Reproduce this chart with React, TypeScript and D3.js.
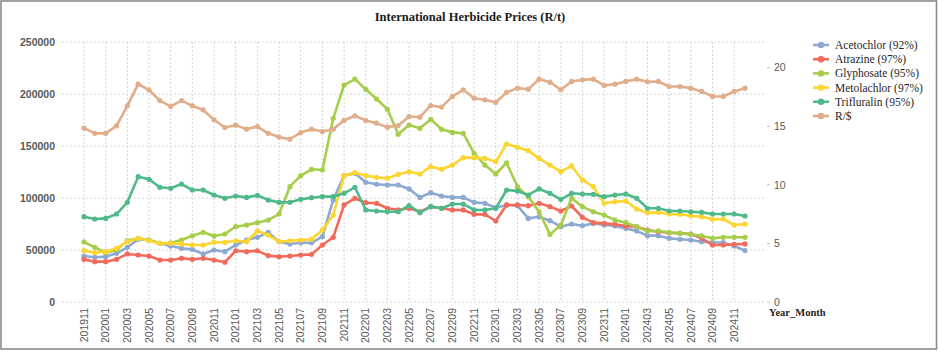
import React from 'react';
import * as d3 from 'd3';

const months = [
  '201911','201912','202001','202002','202003','202004','202005','202006','202007','202008','202009','202010',
  '202011','202012','202101','202102','202103','202104','202105','202106','202107','202108','202109','202110',
  '202111','202112','202201','202202','202203','202204','202205','202206','202207','202208','202209','202210',
  '202211','202212','202301','202302','202303','202304','202305','202306','202307','202308','202309','202310',
  '202311','202312','202401','202402','202403','202404','202405','202406','202407','202408','202409','202410',
  '202411','202412'
];

const acetochlor = [
  44200, 43000, 43600, 46800, 52600, 60300, 59600, 56400, 53800, 51600, 50600, 46200,
  50000, 48400, 54800, 59600, 62200, 67000, 58000, 55800, 56900, 56900, 62800, 98100,
  121500, 123700, 115100, 113200, 112500, 112500, 108700, 100600, 105100, 101900, 100600, 100600,
  95800, 94900, 90700, 93300, 92600, 80400, 82000, 78200, 72400, 75000, 73400, 75600,
  74100, 73100, 70800, 68300, 63800, 63800, 61200, 60300, 59600, 58000, 57400, 57100,
  53800, 49400
];
const atrazine = [
  41000, 38800, 38800, 41000, 46200, 45200, 44200, 40400, 40400, 42000, 41000, 42000,
  40400, 38200, 49300, 48400, 49300, 44600, 43600, 44200, 45200, 45800, 54800, 62200,
  93300, 99700, 95500, 94900, 90100, 88500, 90100, 86800, 91700, 90100, 88500, 88500,
  84300, 84300, 77900, 93300, 93300, 92600, 94900, 91700, 87500, 92300, 81400, 76300,
  75600, 74700, 73100, 72400, 69200, 67600, 66600, 66000, 65400, 61200, 54800, 54800,
  55500, 55800
];
const glyphosate = [
  57700, 52600, 47400, 50000, 59000, 61200, 59600, 56400, 56900, 59600, 63700, 67000,
  63500, 65400, 72400, 74000, 76300, 78800, 84600, 110900, 121500, 127600, 126900, 176600,
  208600, 214400, 204500, 195200, 185300, 161200, 170200, 167000, 175700, 166000, 163100, 162200,
  143000, 131700, 123100, 133900, 110900, 101200, 86800, 65000, 74000, 99700, 91700, 86800,
  83600, 78800, 76300, 72400, 68300, 68300, 67000, 66000, 65100, 63500, 61200, 62200,
  62200, 62200
];
const metolachlor = [
  49400, 47400, 48400, 51600, 58000, 61200, 58900, 56400, 56400, 55800, 54800, 54800,
  57400, 57400, 58900, 58000, 68300, 64400, 58000, 58900, 59600, 60300, 69200, 83600,
  121500, 124400, 121500, 119900, 118900, 122800, 125300, 123100, 130100, 127600, 131700, 138800,
  138800, 138100, 134900, 151900, 148700, 145500, 138100, 131700, 125300, 130800, 117300, 110900,
  94900, 96500, 97100, 89400, 85900, 86200, 84600, 84300, 83000, 82000, 79500, 79800,
  74000, 75000
];
const trifluralin = [
  82000, 79800, 80400, 84600, 95800, 120500, 118000, 110300, 109300, 113400, 107700, 107700,
  102900, 99700, 101900, 100600, 102600, 98000, 95800, 95900, 98700, 100300, 101300, 101300,
  104500, 110300, 88500, 87500, 86800, 86800, 92600, 85900, 91700, 90100, 94200, 94200,
  88500, 88500, 90100, 107700, 106700, 102900, 108700, 104500, 98700, 104500, 103800, 103500,
  101300, 102900, 103800, 99700, 90100, 90100, 87500, 87500, 86800, 86200, 84600, 84600,
  84600, 82700
];
const randDollar = [
  14.85, 14.4, 14.4, 15.04, 16.75, 18.6, 18.1, 17.2, 16.7, 17.2, 16.75, 16.4,
  15.56, 14.9, 15.1, 14.76, 14.98, 14.4, 14.08, 13.9, 14.47, 14.76, 14.56, 14.76,
  15.5, 15.9, 15.5, 15.27, 14.93, 15.07, 15.84, 15.78, 16.78, 16.64, 17.55, 18.12,
  17.4, 17.26, 17.03, 17.9, 18.26, 18.17, 19.03, 18.77, 18.12, 18.83, 18.97, 19.03,
  18.49, 18.6, 18.83, 19.03, 18.8, 18.83, 18.4, 18.4, 18.26, 17.98, 17.55, 17.55,
  17.98, 18.26
];

const seriesNames = ['Acetochlor (92%)', 'Atrazine (97%)', 'Glyphosate (95%)', 'Metolachlor (97%)', 'Trifluralin (95%)', 'R/$'];
const seriesColors = ['#8EA9D1', '#F26A5B', '#A6CE4A', '#FCD530', '#4FB98A', '#E0AE8B'];
const seriesData = [acetochlor, atrazine, glyphosate, metolachlor, trifluralin, randDollar];
const seriesAxis = ['left', 'left', 'left', 'left', 'left', 'right'];

export default function App() {
  const W = 938, H = 351;
  const plotL = 62, plotR = 766, plotT = 42, plotB = 302;
  const x = d3.scalePoint<string>().domain(months).range([84, 745]);
  const yL = d3.scaleLinear().domain([0, 250000]).range([plotB, plotT]);
  const yR = d3.scaleLinear().domain([0, 22.2]).range([plotB, plotT]);
  const leftTicks = d3.range(0, 250001, 50000);
  const rightTicks = [0, 5, 10, 15, 20];
  const labelMonths = months.filter((_, i) => i % 2 === 0);

  return (
    <svg width={W} height={H} style={{ position: 'absolute', left: 0, top: 0, background: '#fff' }}>
      <rect x={0} y={0} width={W} height={H} fill="#fff" />
      <rect x={1} y={1} width={W - 2.5} height={H - 3} fill="none" stroke="#8a8a8a" strokeWidth={1.6} />
      <text x={470} y={21} textAnchor="middle" fontFamily="Liberation Serif" fontWeight="bold" fontSize={12.5} fill="#1a1a1a">
        International Herbicide Prices (R/t)
      </text>
      {/* horizontal gridlines */}
      {leftTicks.map(t => (
        <line key={'h' + t} x1={plotL} x2={plotR} y1={yL(t)} y2={yL(t)} stroke="#d4d4d4" strokeWidth={1} strokeDasharray="2,2" />
      ))}
      {/* vertical gridlines */}
      {labelMonths.map(m => (
        <line key={'v' + m} x1={x(m)} x2={x(m)} y1={plotT} y2={plotB} stroke="#d4d4d4" strokeWidth={1} strokeDasharray="2,2" />
      ))}
      {/* left axis labels */}
      {leftTicks.map(t => (
        <text key={'l' + t} x={55} y={yL(t)} dy="0.35em" textAnchor="end" fontFamily="Liberation Sans" fontWeight="bold" fontSize={10.5} fill="#595959">
          {t}
        </text>
      ))}
      {/* right axis */}
      {rightTicks.map(t => (
        <g key={'r' + t}>
          <line x1={767} x2={770} y1={yR(t)} y2={yR(t)} stroke="#bfbfbf" />
          <text x={774} y={yR(t)} dy="0.35em" fontFamily="Liberation Sans" fontSize={10.5} fill="#595959">{t}</text>
        </g>
      ))}
      {/* x labels */}
      {labelMonths.map(m => (
        <text key={'x' + m} transform={`translate(${x(m)},308) rotate(-90)`} dy="0.35em" textAnchor="end" fontFamily="Liberation Sans" fontSize={10.5} fill="#595959">
          {m}
        </text>
      ))}
      <text x={769} y={316} fontFamily="Liberation Serif" fontWeight="bold" fontSize={10.5} fill="#262626">Year_Month</text>
      {/* series */}
      {seriesData.map((vals, si) => {
        const y = seriesAxis[si] === 'left' ? yL : yR;
        const path = d3.line<number>().x((_, i) => x(months[i]) as number).y(d => y(d))(vals) || '';
        return (
          <g key={'s' + si}>
            <path d={path} fill="none" stroke={seriesColors[si]} strokeWidth={2.6} strokeLinejoin="round" />
            {vals.map((v, i) => (
              <circle key={i} cx={x(months[i]) as number} cy={y(v)} r={2.6} fill={seriesColors[si]} />
            ))}
          </g>
        );
      })}
      {/* legend */}
      {seriesNames.map((n, i) => {
        const ly = 45 + i * 14.2;
        return (
          <g key={'lg' + i}>
            <line x1={813} x2={829} y1={ly} y2={ly} stroke={seriesColors[i]} strokeWidth={2.6} />
            <circle cx={821} cy={ly} r={3.2} fill={seriesColors[i]} />
            <text x={835} y={ly} dy="0.35em" fontFamily="Liberation Serif" fontSize={11.5} fill="#262626">{n}</text>
          </g>
        );
      })}
    </svg>
  );
}
